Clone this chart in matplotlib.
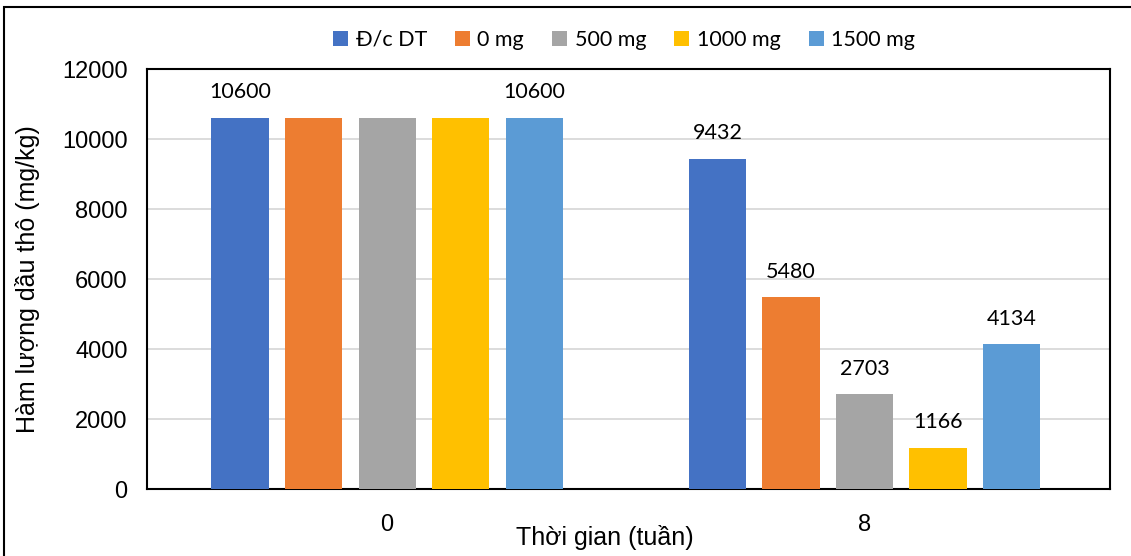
import numpy as np
import matplotlib.pyplot as plt
from matplotlib.patches import Rectangle

weeks = ["0", "8"]
series = ["Đ/c DT", "0 mg", "500 mg", "1000 mg", "1500 mg"]
dc_dt = [10600, 9432]
mg0 = [10600, 5480]
mg500 = [10600, 2703]
mg1000 = [10600, 1166]
mg1500 = [10600, 4134]
# which bars carry a value label (week 0 shows only first and last)
show_label = [[True, True], [False, True], [False, True], [False, True], [True, True]]

colors = ["#4472C4", "#ED7D31", "#A5A5A5", "#FFC000", "#5B9BD5"]
values = [dc_dt, mg0, mg500, mg1000, mg1500]

fig = plt.figure(figsize=(11.31, 5.56), dpi=100)
ax = fig.add_axes([147 / 1131, 1 - 489 / 556, (1110 - 147) / 1131, (489 - 69) / 556])

x = np.arange(len(weeks))
step = 0.154
width = 0.12
for i, (name, vals, col) in enumerate(zip(series, values, colors)):
    pos = x + (i - 2) * step
    bars = ax.bar(pos, vals, width, color=col, label=name, zorder=3)
    for b, v, s in zip(bars, vals, show_label[i]):
        if s:
            ax.annotate(f"{v}", (b.get_x() + b.get_width() / 2, v),
                        xytext=(0, 18.5), textcoords="offset points",
                        ha="center", va="center", fontsize=15.5, family="Lato")

ax.set_xlim(-0.503, 1.514)
ax.set_ylim(0, 12000)
ax.set_yticks(np.arange(0, 12001, 2000))
ax.set_xticks(x)
ax.set_xticklabels(weeks)
ax.tick_params(axis="both", length=0, labelsize=17)
ax.tick_params(axis="x", pad=18)
ax.tick_params(axis="y", pad=14)
for lab in ax.get_xticklabels() + ax.get_yticklabels():
    lab.set_family("Liberation Sans")
ax.grid(axis="y", color="#D9D9D9", linewidth=1.3, zorder=0)
for sp in ax.spines.values():
    sp.set_linewidth(1.5)
    sp.set_color("black")

ax.set_ylabel("Hàm lượng dầu thô (mg/kg)", fontsize=18, family="Liberation Sans", labelpad=16)
fig.text(605 / 1131, 1 - 537 / 556, "Thời gian (tuần)", fontsize=18, family="Liberation Sans",
         ha="center", va="center")

fig.legend(loc="center", bbox_to_anchor=(624 / 1131, 1 - 40 / 556), ncol=5, frameon=False,
           prop={"family": "Lato", "size": 15.5}, handlelength=0.7, handleheight=0.7,
           handletextpad=0.35, columnspacing=1.3)

fig.patches.append(Rectangle((4 / 1131, -0.05), 1.2, 1 - 7 / 556 + 0.05,
                             transform=fig.transFigure, fill=False,
                             edgecolor="black", linewidth=1.5))

fig.savefig("out.png", dpi=100)
